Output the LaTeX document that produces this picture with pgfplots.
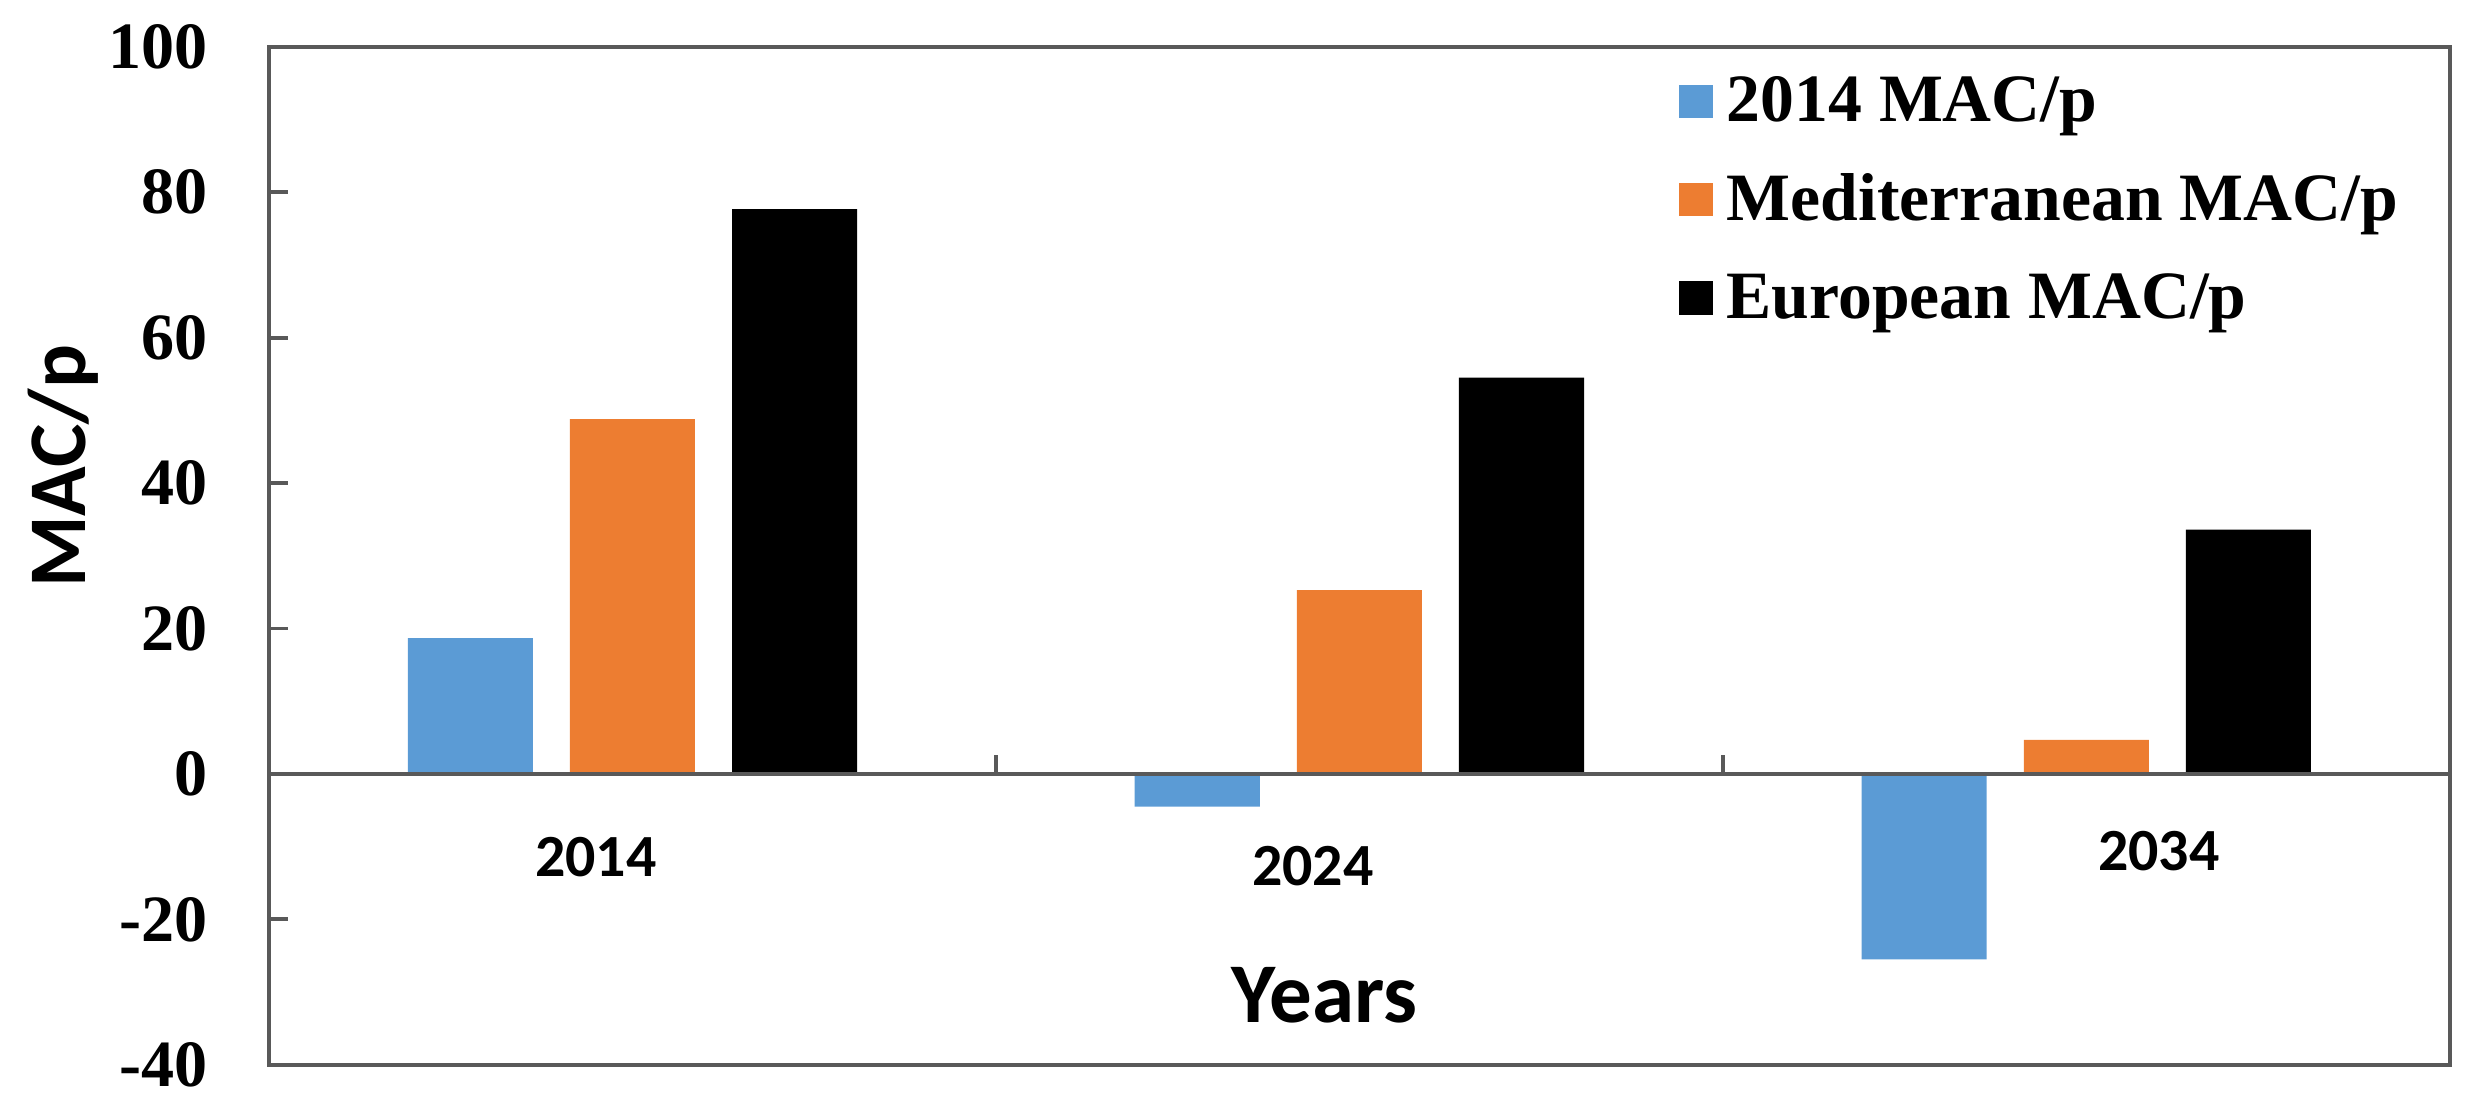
\documentclass[border=0pt]{standalone}
\usepackage{pgfplots}
\pgfplotsset{compat=1.18}
\usepackage{fontspec}
\setmainfont{Liberation Serif}
\newfontfamily\carlito{Carlito}
\definecolor{barblue}{HTML}{5B9BD5}
\definecolor{barorange}{HTML}{ED7D31}
\definecolor{axiscol}{HTML}{595959}
\pgfplotsset{mylegimg/.style={legend image code/.code={\fill[##1,draw=none] (0pt,-5.25pt) rectangle (10.5pt,5.25pt);}}}
\begin{document}
\begin{tikzpicture}
\useasboundingbox (-85.4pt,-15.9pt) rectangle (698.6pt,338.1pt);
\begin{axis}[
  at={(0pt,0pt)}, anchor=south west,
  width=692.5pt, height=323.2pt, scale only axis,
  clip=false,
  ybar, bar width=0.172,
  xmin=-0.5, xmax=2.5, ymin=-40, ymax=100,
  xtick=\empty,
  ytick={-40,-20,...,100},
  tick align=inside, ytick pos=left,
  major tick length=6pt,
  axis line style={axiscol, line width=1.2pt},
  every tick/.style={axiscol, line width=1.2pt},
  /pgf/number format/assume math mode=true,
  yticklabel style={font=\fontsize{21}{21}\selectfont\bfseries, inner sep=0pt, anchor=east, xshift=-19.4pt},
  legend style={draw=none, fill=none, at={(rel axis cs:0.6465,0.9745)}, anchor=north west,
    inner sep=0pt, row sep=13.1pt, column sep=3.5pt,
    font=\fontsize{21.5}{21.5}\selectfont\bfseries, nodes={inner sep=1pt}},
  legend cell align=left,
]
\addplot[fill=barblue, draw=none, bar shift=-0.223, mylegimg] coordinates {(0,18.7) (1,-4.5) (2,-25.5)};
\addplot[fill=barorange, draw=none, bar shift=0, mylegimg] coordinates {(0,48.8) (1,25.3) (2,4.7)};
\addplot[fill=black, draw=none, bar shift=0.223, mylegimg] coordinates {(0,77.7) (1,54.5) (2,33.6)};
\legend{2014 MAC/p, Mediterranean MAC/p, European MAC/p}
\draw[axiscol, line width=1.2pt] (axis cs:-0.5,0) -- (axis cs:2.5,0);
\draw[axiscol, line width=1.2pt] (axis cs:0.5,0) -- ++(0pt,6pt);
\draw[axiscol, line width=1.2pt] (axis cs:1.5,0) -- ++(0pt,6pt);
\node[inner sep=0pt, font=\carlito\bfseries\fontsize{19}{19}\selectfont] at (rel axis cs:0.1499,0.2043) {2014};
\node[inner sep=0pt, font=\carlito\bfseries\fontsize{19}{19}\selectfont] at (rel axis cs:0.4787,0.1955) {2024};
\node[inner sep=0pt, font=\carlito\bfseries\fontsize{19}{19}\selectfont] at (rel axis cs:0.8666,0.2102) {2034};
\node[inner sep=0pt, anchor=base, font=\carlito\bfseries\fontsize{27}{27}\selectfont] at (rel axis cs:0.484,0.0413) {Years};
\node[inner sep=0pt, anchor=base, rotate=90, font=\carlito\bfseries\fontsize{26}{26}\selectfont] at (rel axis cs:-0.0843,0.588) {MAC/p};
\end{axis}
\end{tikzpicture}
\end{document}
